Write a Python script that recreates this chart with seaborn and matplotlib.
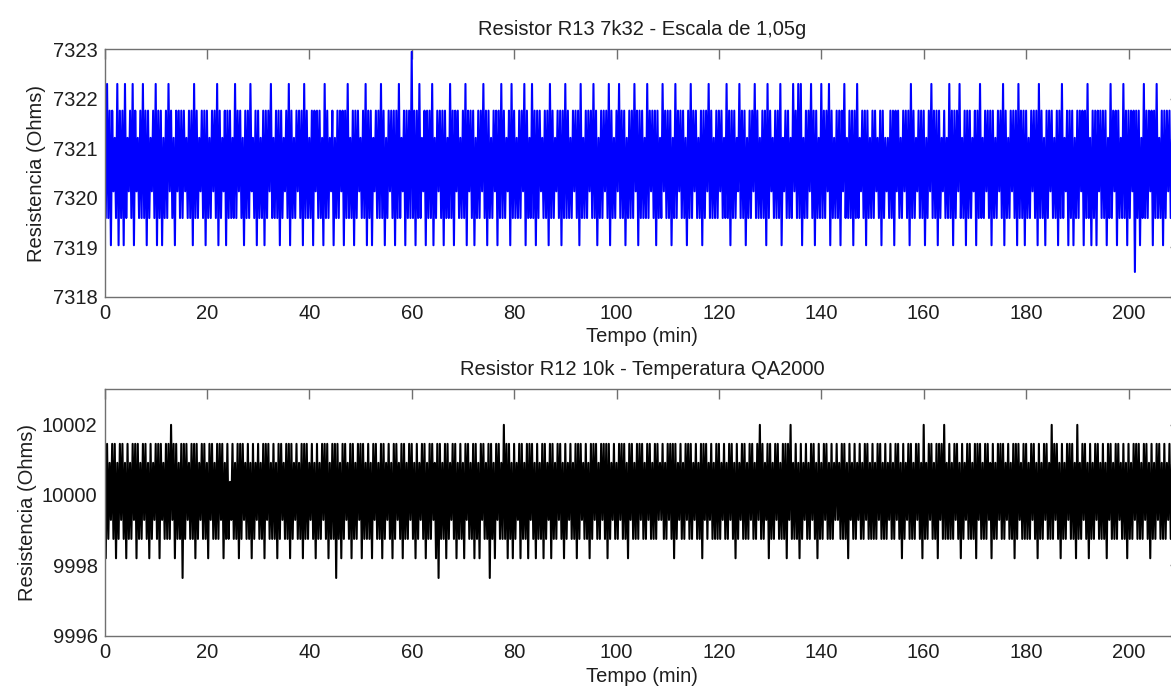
import numpy as np
import pandas as pd
import matplotlib
matplotlib.use("Agg")
import matplotlib.pyplot as plt
import seaborn as sns

# ---------------- data ----------------
# quantised resistance levels (Ohms), indexed by the digits in the sample strings
top_levels = [7318.50, 7319.04, 7319.59, 7320.13, 7320.67, 7321.21, 7321.76, 7322.30, 7322.95]
bottom_levels = [9997.64, 9998.20, 9998.75, 9999.29, 9999.83, 10000.37, 10000.91, 10001.45, 10001.99]

# samples every 0.25 min, each chunk covers 15 min
top_samples = [
    "627261635271626172536271635262726162536271626152627362516362",
    "626352626172625362616252636271625361626252726362516262735261",
    "625261626372526261625362716252636261726252616362625172625361",
    "526263616272526162635262716261536262726152636261627253616262",
    "826162725361626271526362616252726163625262716362615262637261",
    "625263616272625361726252626371625272616263526261726253626162",
    "726252636261725262636272615262636271625263726261526262736162",
    "625272636261625273626261527263626251627263625261626372625262",
    "636252726162625372626152626372625262617263526262715362625273",
    "627271526263726162527262637162526261637252626162725362616252",
    "626352616253526261636252636261726253626261526372626162536252",
    "726162637252616262536162725263626162526362716252636261726261",
    "625263626172625162636252616272536162615262636162725162616362",
    "626152726361625272616263606261527262636162725261626362517262",
]
bottom_samples = [
    "717263727162737261726273717262737261726372717362727283717262",
    "707273627271726372726173726272737162725372627172736272617263",
    "726271737262726172736272717263726271727263726172627372716272",
    "707261727362717262737172627261737262717263726172736271726273",
    "726172637271627273617072627172637271627261737262717261737262",
    "707261737262827172617263717262717372617262717263717262737261",
    "726372627172736272617273726273727172637262737272617372627273",
    "726273726272736372627372717263726273727263726271737263726272",
    "726372627372617263727262737262738272637172627372627271738262",
    "726172637262737261726273726272637362727261736272637262737262",
    "726273726272637262737261726372726273726182627372627173728262",
    "726273726172637272627173726272736172627372726372627172736272",
    "726273726172627372628273726172627372726182627372617262737262",
    "726173726272736272617262737272627372617262737262726372627372",
]
sample_step_min = 0.25

top_title = "Resistor R13 7k32 - Escala de 1,05g"
bottom_title = "Resistor R12 10k - Temperatura QA2000"
x_label = "Tempo (min)"
y_label = "Resistencia (Ohms)"
x_ticks = [0, 20, 40, 60, 80, 100, 120, 140, 160, 180, 200]
top_yticks = [7318, 7319, 7320, 7321, 7322, 7323]
bottom_yticks = [9996, 9998, 10000, 10002]


def to_frame(chunks, levels):
    digits = "".join(chunks)
    vals = [levels[int(c)] for c in digits]
    t = np.arange(len(vals)) * sample_step_min
    return pd.DataFrame({"t": t, "r": vals})


top_df = to_frame(top_samples, top_levels)
bottom_df = to_frame(bottom_samples, bottom_levels)

# ---------------- style ----------------
sns.set_style("white")
plt.rcParams["font.family"] = ["Liberation Sans", "DejaVu Sans"]
text_color = "#1e1e1e"
spine_color = "#707070"
fs = 14.5

W, H = 1171, 686
fig = plt.figure(figsize=(W / 100, H / 100), dpi=100)

ax_w = 1075.2 / W
ax_top = fig.add_axes([104.5 / W, (H - 296.7) / H, ax_w, 247.4 / H])
ax_bot = fig.add_axes([104.5 / W, (H - 635.7) / H, ax_w, 246.4 / H])

sns.lineplot(data=top_df, x="t", y="r", ax=ax_top, color="#0000ff",
             linewidth=1.5, estimator=None, sort=False)
sns.lineplot(data=bottom_df, x="t", y="r", ax=ax_bot, color="#000000",
             linewidth=1.5, estimator=None, sort=False)

for ax, title, yt, ylim in [
    (ax_top, top_title, top_yticks, (7318, 7323)),
    (ax_bot, bottom_title, bottom_yticks, (9996, 10003)),
]:
    ax.set_xlim(0, 210)
    ax.set_ylim(*ylim)
    ax.set_xticks(x_ticks)
    ax.set_yticks(yt)
    ax.set_xticklabels([str(v) for v in x_ticks])
    ax.set_yticklabels([str(v) for v in yt])
    ax.tick_params(axis="both", direction="in", length=7, width=1.0,
                   color=spine_color, labelsize=fs, labelcolor=text_color,
                   top=True, right=True, pad=5)
    for sp in ax.spines.values():
        sp.set_color(spine_color)
        sp.set_linewidth(1.0)
        sp.set_visible(True)
    ax.set_title(title, fontsize=fs, color=text_color, pad=10)
    ax.set_xlabel(x_label, fontsize=fs, color=text_color)
    ax.set_ylabel(y_label, fontsize=fs, color=text_color)
    ax.grid(False)

ax_top.xaxis.set_label_coords(0.5, -0.1225)
ax_bot.xaxis.set_label_coords(0.5, -0.127)
ax_top.yaxis.set_label_coords(-0.054, 0.5)
ax_bot.yaxis.set_label_coords(-0.0625, 0.5)

fig.savefig("out.png", dpi=100, facecolor="white")
